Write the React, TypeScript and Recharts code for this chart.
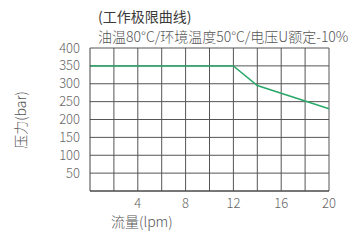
import React from "react";
import { LineChart, Line, XAxis, YAxis, CartesianGrid, ReferenceLine } from "recharts";

const flowLpm = [0, 12, 14, 20];
const pressureBar = [350, 350, 295, 230];
const xTickLabels = [4, 8, 12, 16, 20];
const xGridTicks = [2, 4, 6, 8, 10, 12, 14, 16, 18, 20];
const yTickLabels = [50, 100, 150, 200, 250, 300, 350, 400];
const titleText = "(工作极限曲线)";
const subtitleText = "油温80°C/环境温度50°C/电压U额定-10%";
const yAxisTitle = "压力(bar)";
const xAxisTitle = "流量(lpm)";

const data = flowLpm.map((x, i) => ({ x, y: pressureBar[i] }));

const FONT = "'Noto Sans CJK SC', 'Noto Sans', sans-serif";

export default function App() {
  return (
    <div style={{ position: "absolute", left: 0, top: 0, width: 358, height: 245, fontFamily: FONT, background: "#fff" }}>
      <div style={{ position: "absolute", left: 98, top: 8, fontSize: 14, color: "#3a3a3a", whiteSpace: "nowrap", lineHeight: "16px" }}>{titleText}</div>
      <div style={{ position: "absolute", left: 98, top: 28, fontSize: 14, color: "#555", whiteSpace: "nowrap", lineHeight: "16px", fontWeight: 300 }}>{subtitleText}</div>
      <div style={{ position: "absolute", left: 111, top: 213, fontSize: 14, color: "#555", whiteSpace: "nowrap", lineHeight: "17px", fontWeight: 300 }}>{xAxisTitle}</div>
      <div style={{ position: "absolute", left: 20, top: 120, width: 0, height: 0 }}>
        <div style={{ position: "absolute", left: 0, top: 0, fontSize: 14, color: "#555", whiteSpace: "nowrap", lineHeight: "17px", fontWeight: 300, transform: "translate(-50%, -50%) rotate(-90deg)" }}>{yAxisTitle}</div>
      </div>
      <LineChart width={358} height={245} data={data} margin={{ top: 48, right: 29, bottom: 24, left: 0 }}>
        <CartesianGrid stroke="#555" strokeWidth={1} vertical={false} />
        {xGridTicks.map((t) => (
          <ReferenceLine key={t} x={t} stroke="#555" strokeWidth={1} ifOverflow="visible" />
        ))}
        <XAxis
          dataKey="x"
          type="number"
          domain={[0, 20]}
          ticks={xTickLabels}
          tickLine={false}
          axisLine={{ stroke: "#444" }}
          tick={{ fill: "#666", fontSize: 13, fontFamily: FONT, fontWeight: 300 }}
          height={30}
          tickMargin={2}
        />
        <YAxis
          type="number"
          domain={[0, 400]}
          ticks={yTickLabels}
          tickLine={false}
          axisLine={{ stroke: "#444" }}
          tick={{ fill: "#666", fontSize: 13, fontFamily: FONT, fontWeight: 300 }}
          width={90}
          tickMargin={4}
          interval={0}
        />
        <Line dataKey="y" stroke="#2aa86a" strokeWidth={1.5} dot={false} isAnimationActive={false} />
      </LineChart>
    </div>
  );
}
